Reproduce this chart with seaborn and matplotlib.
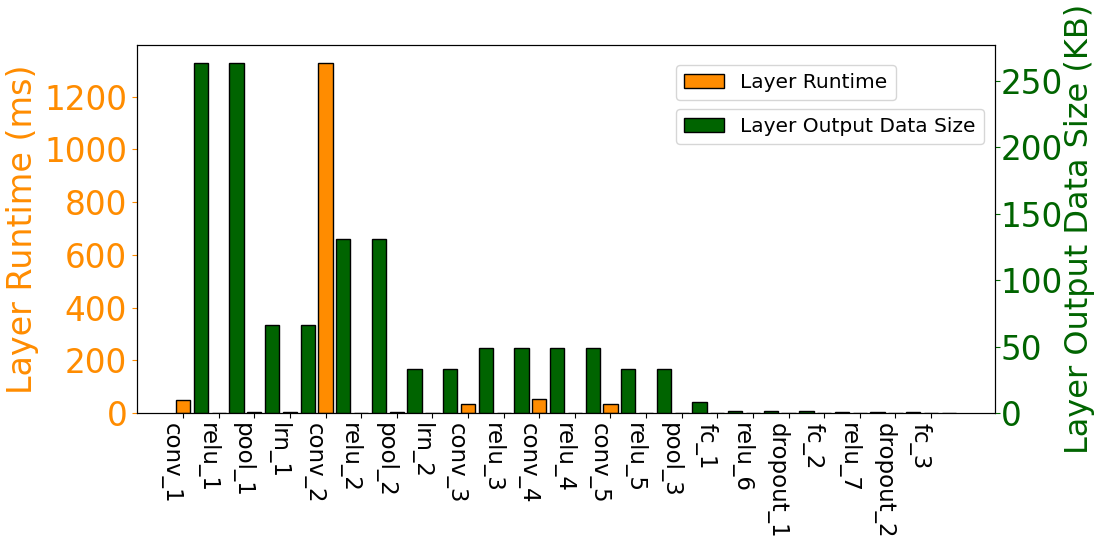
import matplotlib
matplotlib.use('AGG')
import matplotlib.pyplot as plt
from matplotlib.patches import Patch
from matplotlib.ticker import MultipleLocator
import seaborn as sns
import numpy as np
from pandas import DataFrame

capas = ['conv_1', 'relu_1', 'pool_1', 'lrn_1', 'conv_2', 'relu_2', 'pool_2', 'lrn_2',
         'conv_3', 'relu_3', 'conv_4', 'relu_4', 'conv_5', 'relu_5', 'pool_3',
         'fc_1', 'relu_6', 'dropout_1', 'fc_2', 'relu_7', 'dropout_2', 'fc_3']
tiempos = [49, 0.8, 4, 3, 1330, 0.8, 2, 1.5,
           34, 0.6, 53, 0.6, 34, 0.6, 0.6,
           1, 0.3, 0.3, 0.6, 0.3, 0.3, 0.3]
tamanos = [264, 264, 66, 66, 131, 131, 33, 33,
           49, 49, 49, 49, 33, 33, 8,
           1.6, 1.6, 1.6, 0.9, 0.9, 0.9, 0.3]

naranja = '#FF8C00'
verde = '#006400'

datos = DataFrame({'capa': capas, 'tiempo': tiempos, 'tamano': tamanos})
datos['pos'] = np.arange(len(capas)).astype(float)
datos['pos_2'] = datos['pos'] + 0.5

fig = plt.figure(figsize=(11.01, 5.40), dpi=100)
ax = fig.add_subplot(111)
fig.subplots_adjust(left=0.1244, right=0.9037, top=0.9167, bottom=0.2352)
ax2 = ax.twinx()

sns.barplot(data=datos, x='pos', y='tiempo', native_scale=True, orient='x', width=0.4,
            color=naranja, saturation=1, edgecolor='black', linewidth=1, ax=ax)
sns.barplot(data=datos, x='pos_2', y='tamano', native_scale=True, orient='x', width=0.4,
            color=verde, saturation=1, edgecolor='black', linewidth=1, ax=ax2)

ax.set_xticks(datos['pos'])
ax.set_xticklabels(capas, rotation=270, ha='right', fontsize=16.5)
ax.set_xlabel('')
ax2.set_xlabel('')

ax.yaxis.set_major_locator(MultipleLocator(200))
ax2.yaxis.set_major_locator(MultipleLocator(50))
ax.set_ylabel('Layer Runtime (ms)', color=naranja, fontsize=24)
ax2.set_ylabel('Layer Output Data Size (KB)', color=verde, fontsize=23, labelpad=1)
ax.tick_params(axis='y', colors=naranja, labelsize=23.5)
ax2.tick_params(axis='y', colors=verde, labelsize=23.5, pad=0.5)

leg1 = ax2.legend(handles=[Patch(facecolor=naranja, edgecolor='black', label='Layer Runtime')],
                  loc='upper left', bbox_to_anchor=(0.628, 0.9457), borderaxespad=0, fontsize=14.5)
ax2.add_artist(leg1)
ax2.legend(handles=[Patch(facecolor=verde, edgecolor='black', label='Layer Output Data Size')],
           loc='upper left', bbox_to_anchor=(0.628, 0.826), borderaxespad=0, fontsize=14.5)

plt.savefig('out.png', dpi=100)
plt.close()
